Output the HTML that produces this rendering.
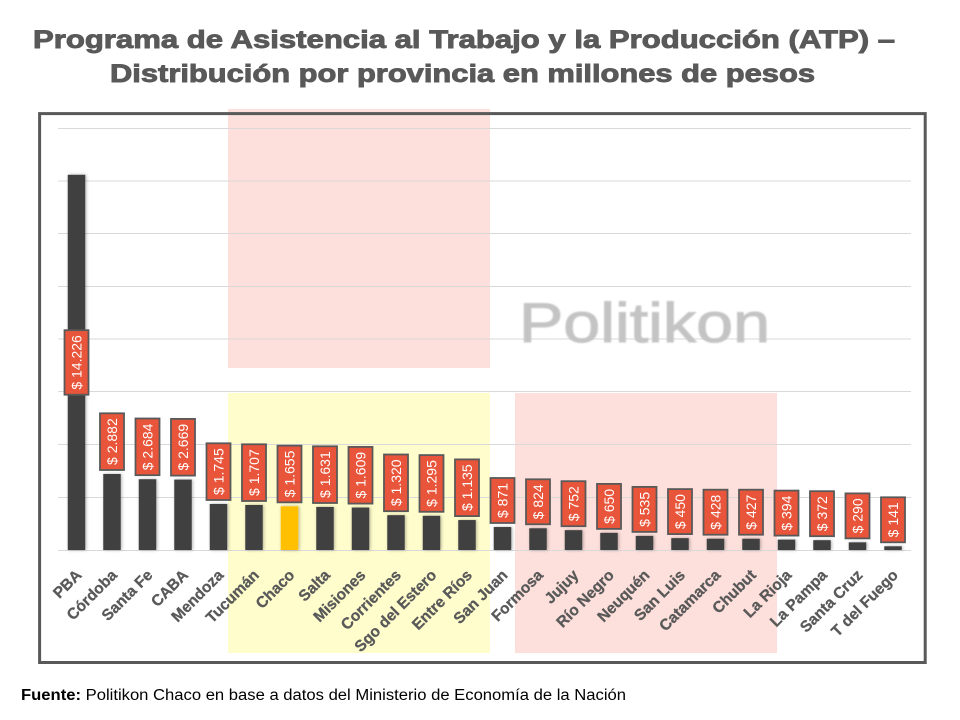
<!DOCTYPE html>
<html>
<head>
<meta charset="utf-8">
<style>
  html,body{margin:0;padding:0;background:#fff;}
  svg{display:block;}
</style>
</head>
<body>
<svg width="960" height="720" viewBox="0 0 960 720" xmlns="http://www.w3.org/2000/svg">
  <defs>
    <filter id="sh" x="-30%" y="-10%" width="160%" height="120%">
      <feDropShadow dx="1" dy="0" stdDeviation="1.5" flood-color="#000" flood-opacity="0.3"/>
    </filter>
    <filter id="blur" x="-5%" y="-20%" width="110%" height="140%">
      <feGaussianBlur stdDeviation="0.9"/>
    </filter>
  </defs>

  <rect width="960" height="720" fill="#ffffff"/>

  <!-- Title -->
  <g font-family="'Liberation Sans', sans-serif" font-weight="bold" font-size="25" fill="#595959" stroke="#595959" stroke-width="0.9">
    <text x="33" y="48" textLength="862" lengthAdjust="spacingAndGlyphs">Programa de Asistencia al Trabajo y la Producción (ATP) –</text>
    <text x="110" y="82" textLength="705" lengthAdjust="spacingAndGlyphs">Distribución por provincia en millones de pesos</text>
  </g>

  <!-- highlight rectangles -->
  <rect x="228" y="109" width="262" height="259" fill="#FDDFDB"/>
  <rect x="228" y="393" width="262" height="260" fill="#FFFDCC"/>
  <rect x="515" y="393" width="262" height="260" fill="#FDDFDB"/>

  <!-- gridlines -->
  <g stroke="#D9D9D9" stroke-width="1">
    <line x1="58" y1="128.5" x2="911" y2="128.5"/>
    <line x1="58" y1="181" x2="911" y2="181"/>
    <line x1="58" y1="233.5" x2="911" y2="233.5"/>
    <line x1="58" y1="286.5" x2="911" y2="286.5"/>
    <line x1="58" y1="339" x2="911" y2="339"/>
    <line x1="58" y1="391.5" x2="911" y2="391.5"/>
    <line x1="58" y1="444.5" x2="911" y2="444.5"/>
    <line x1="58" y1="497.5" x2="911" y2="497.5"/>
    <line x1="58" y1="550.5" x2="911" y2="550.5"/>
  </g>

  <!-- watermark -->
  <text x="519" y="342" font-family="'Liberation Sans', sans-serif" font-size="56" fill="#C4C4C4" stroke="#C4C4C4" stroke-width="1" textLength="251" lengthAdjust="spacingAndGlyphs" filter="url(#blur)">Politikon</text>

  <!-- bars -->
  <g fill="#404040" filter="url(#sh)">
    <rect x="67.75" y="174.79" width="17.5" height="375.21"/>
    <rect x="103.25" y="473.99" width="17.5" height="76.01"/>
    <rect x="138.75" y="479.21" width="17.5" height="70.79"/>
    <rect x="174.25" y="479.60" width="17.5" height="70.40"/>
    <rect x="209.75" y="503.98" width="17.5" height="46.02"/>
    <rect x="245.25" y="504.98" width="17.5" height="45.02"/>
    <rect x="280.75" y="506.35" width="17.5" height="43.65" fill="#FFC000"/>
    <rect x="316.25" y="506.98" width="17.5" height="43.02"/>
    <rect x="351.75" y="507.56" width="17.5" height="42.44"/>
    <rect x="387.25" y="515.18" width="17.5" height="34.82"/>
    <rect x="422.75" y="515.84" width="17.5" height="34.16"/>
    <rect x="458.25" y="520.06" width="17.5" height="29.94"/>
    <rect x="493.75" y="527.03" width="17.5" height="22.97"/>
    <rect x="529.25" y="528.27" width="17.5" height="21.73"/>
    <rect x="564.75" y="530.17" width="17.5" height="19.83"/>
    <rect x="600.25" y="532.86" width="17.5" height="17.14"/>
    <rect x="635.75" y="535.89" width="17.5" height="14.11"/>
    <rect x="671.25" y="538.13" width="17.5" height="11.87"/>
    <rect x="706.75" y="538.71" width="17.5" height="11.29"/>
    <rect x="742.25" y="538.74" width="17.5" height="11.26"/>
    <rect x="777.75" y="539.61" width="17.5" height="10.39"/>
    <rect x="813.25" y="540.19" width="17.5" height="9.81"/>
    <rect x="848.75" y="542.35" width="17.5" height="7.65"/>
    <rect x="884.25" y="546.28" width="17.5" height="3.72"/>
  </g>

  <!-- label boxes -->
  <g fill="#E8553A" stroke="#595959" stroke-width="1.8">
    <rect x="64.5" y="330.2" width="24" height="64.5"/>
    <rect x="100" y="413.3" width="24" height="56.7"/>
    <rect x="135.5" y="418.5" width="24" height="56.7"/>
    <rect x="171" y="418.9" width="24" height="56.7"/>
    <rect x="206.5" y="443.3" width="24" height="56.7"/>
    <rect x="242" y="444.3" width="24" height="56.7"/>
    <rect x="277.5" y="445.65" width="24" height="56.7"/>
    <rect x="313" y="446.3" width="24" height="56.7"/>
    <rect x="348.5" y="446.9" width="24" height="56.7"/>
    <rect x="384" y="454.5" width="24" height="56.7"/>
    <rect x="419.5" y="455.1" width="24" height="56.7"/>
    <rect x="455" y="459.4" width="24" height="56.7"/>
    <rect x="490.5" y="478.0" width="24" height="45"/>
    <rect x="526" y="479.3" width="24" height="45"/>
    <rect x="561.5" y="481.2" width="24" height="45"/>
    <rect x="597" y="483.9" width="24" height="45"/>
    <rect x="632.5" y="486.9" width="24" height="45"/>
    <rect x="668" y="489.1" width="24" height="45"/>
    <rect x="703.5" y="489.7" width="24" height="45"/>
    <rect x="739" y="489.7" width="24" height="45"/>
    <rect x="774.5" y="490.6" width="24" height="45"/>
    <rect x="810" y="491.2" width="24" height="45"/>
    <rect x="845.5" y="493.4" width="24" height="45"/>
    <rect x="881" y="497.3" width="24" height="45"/>
  </g>

  <!-- label texts -->
  <g font-family="'Liberation Sans', sans-serif" font-size="14" fill="#ffffff" text-anchor="middle">
    <text transform="translate(81.5,362.4) rotate(-90)">$ 14.226</text>
    <text transform="translate(117,441.6) rotate(-90)">$ 2.882</text>
    <text transform="translate(152.5,446.9) rotate(-90)">$ 2.684</text>
    <text transform="translate(188,447.2) rotate(-90)">$ 2.669</text>
    <text transform="translate(223.5,471.6) rotate(-90)">$ 1.745</text>
    <text transform="translate(259,472.6) rotate(-90)">$ 1.707</text>
    <text transform="translate(294.5,474.0) rotate(-90)">$ 1.655</text>
    <text transform="translate(330,474.6) rotate(-90)">$ 1.631</text>
    <text transform="translate(365.5,475.2) rotate(-90)">$ 1.609</text>
    <text transform="translate(401,482.8) rotate(-90)">$ 1.320</text>
    <text transform="translate(436.5,483.5) rotate(-90)">$ 1.295</text>
    <text transform="translate(472,487.7) rotate(-90)">$ 1.135</text>
    <text transform="translate(507.5,500.5) rotate(-90)">$ 871</text>
    <text transform="translate(543,501.8) rotate(-90)">$ 824</text>
    <text transform="translate(578.5,503.7) rotate(-90)">$ 752</text>
    <text transform="translate(614,506.4) rotate(-90)">$ 650</text>
    <text transform="translate(649.5,509.4) rotate(-90)">$ 535</text>
    <text transform="translate(685,511.6) rotate(-90)">$ 450</text>
    <text transform="translate(720.5,512.2) rotate(-90)">$ 428</text>
    <text transform="translate(756,512.2) rotate(-90)">$ 427</text>
    <text transform="translate(791.5,513.1) rotate(-90)">$ 394</text>
    <text transform="translate(827,513.7) rotate(-90)">$ 372</text>
    <text transform="translate(862.5,515.9) rotate(-90)">$ 290</text>
    <text transform="translate(898,519.8) rotate(-90)">$ 141</text>
  </g>

  <!-- x axis labels -->
  <g font-family="'Liberation Sans', sans-serif" font-weight="bold" font-size="15.5" fill="#595959" stroke="#595959" stroke-width="0.3" text-anchor="end">
    <text transform="translate(82.5,576) rotate(-45)">PBA</text>
    <text transform="translate(118,576) rotate(-45)">Córdoba</text>
    <text transform="translate(153.5,576) rotate(-45)">Santa Fe</text>
    <text transform="translate(189,576) rotate(-45)">CABA</text>
    <text transform="translate(224.5,576) rotate(-45)">Mendoza</text>
    <text transform="translate(260,576) rotate(-45)">Tucumán</text>
    <text transform="translate(295.5,576) rotate(-45)">Chaco</text>
    <text transform="translate(331,576) rotate(-45)">Salta</text>
    <text transform="translate(366.5,576) rotate(-45)">Misiones</text>
    <text transform="translate(402,576) rotate(-45)">Corrientes</text>
    <text transform="translate(437.5,576) rotate(-45)">Sgo del Estero</text>
    <text transform="translate(473,576) rotate(-45)">Entre Ríos</text>
    <text transform="translate(508.5,576) rotate(-45)">San Juan</text>
    <text transform="translate(544,576) rotate(-45)">Formosa</text>
    <text transform="translate(579.5,576) rotate(-45)">Jujuy</text>
    <text transform="translate(615,576) rotate(-45)">Río Negro</text>
    <text transform="translate(650.5,576) rotate(-45)">Neuquén</text>
    <text transform="translate(686,576) rotate(-45)">San Luis</text>
    <text transform="translate(721.5,576) rotate(-45)">Catamarca</text>
    <text transform="translate(757,576) rotate(-45)">Chubut</text>
    <text transform="translate(792.5,576) rotate(-45)">La Rioja</text>
    <text transform="translate(828,576) rotate(-45)">La Pampa</text>
    <text transform="translate(863.5,576) rotate(-45)">Santa Cruz</text>
    <text transform="translate(899,576) rotate(-45)">T del Fuego</text>
  </g>

  <!-- chart border -->
  <rect x="39.6" y="113.6" width="885.6" height="548.9" fill="none" stroke="#595959" stroke-width="3"/>

  <!-- footer -->
  <text x="21" y="700" font-family="'Liberation Sans', sans-serif" font-size="15.5" fill="#000" textLength="605" lengthAdjust="spacingAndGlyphs"><tspan font-weight="bold">Fuente:</tspan> Politikon Chaco en base a datos del Ministerio de Economía de la Nación</text>
</svg>
</body>
</html>
